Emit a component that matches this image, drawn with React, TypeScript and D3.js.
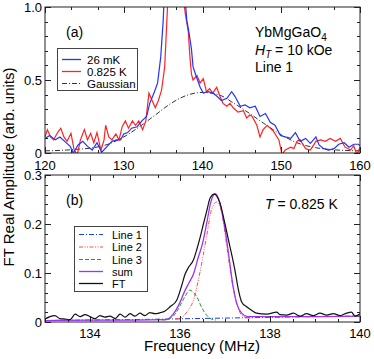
import React from "react";
import * as d3 from "d3";

const width = 374;
const height = 359;

// panel (a): frequency (MHz), amplitude (arb. units)
const blue26mK: [number, number][] = [
  [120.0, 0.1], [120.6, 0.12], [121.3, 0.09], [121.9, 0.11], [122.5, 0.08], [123.2, 0.045],
  [123.6, 0.0], [124.2, 0.055], [124.8, 0.08], [125.4, 0.045], [126.0, 0.02], [126.6, 0.07],
  [127.2, 0.005], [127.9, 0.045], [128.5, 0.08], [129.1, 0.09], [129.6, 0.09], [130.0, 0.13],
  [130.5, 0.14], [131.0, 0.17], [131.7, 0.18], [132.3, 0.22], [132.9, 0.25], [133.3, 0.34],
  [133.9, 0.42], [134.3, 0.48], [134.7, 0.66], [135.0, 0.9], [135.5, 1.5], [136.0, 2.3],
  [136.6, 2.8], [137.2, 2.0], [137.6, 1.2], [138.0, 0.91], [138.3, 0.82], [138.6, 0.71],
  [138.8, 0.59], [139.3, 0.51], [139.7, 0.45], [140.1, 0.41], [140.7, 0.42], [141.3, 0.41],
  [141.8, 0.39], [142.4, 0.36], [143.1, 0.375], [143.7, 0.42], [144.1, 0.39], [144.8, 0.32],
  [145.4, 0.33], [146.0, 0.31], [146.7, 0.32], [147.3, 0.25], [148.0, 0.27], [148.6, 0.21],
  [149.2, 0.19], [149.9, 0.12], [150.5, 0.11], [151.2, 0.1], [151.8, 0.14], [152.4, 0.08],
  [153.1, 0.1], [153.7, 0.066], [154.4, 0.11], [154.8, 0.055], [155.4, 0.03], [156.0, 0.02],
  [156.7, 0.03], [157.3, 0.06], [158.0, 0.07], [158.6, 0.04], [159.2, 0.06], [159.8, 0.06],
  [160.0, 0.05],
];

const red825mK: [number, number][] = [
  [120.0, 0.11], [120.3, 0.16], [120.7, 0.11], [121.1, 0.09], [121.6, 0.14], [122.0, 0.17],
  [122.4, 0.11], [122.8, 0.08], [123.3, 0.135], [123.7, 0.02], [124.1, -0.01], [124.5, 0.09],
  [125.0, 0.16], [125.4, 0.09], [125.8, 0.135], [126.2, 0.07], [126.6, 0.14], [127.1, 0.02],
  [127.5, 0.09], [127.7, 0.19], [128.1, 0.11], [128.5, 0.09], [129.0, 0.13], [129.4, 0.09],
  [129.8, 0.18], [130.2, 0.22], [130.6, 0.17], [131.1, 0.22], [131.5, 0.19], [131.9, 0.22],
  [132.4, 0.16], [132.8, 0.22], [133.2, 0.41], [133.6, 0.36], [134.0, 0.31], [134.4, 0.36],
  [134.8, 0.43], [135.2, 0.59], [135.4, 0.82], [135.6, 1.05], [136.1, 2.2], [136.7, 2.9],
  [137.2, 1.8], [137.5, 1.1], [137.8, 0.96], [138.2, 0.83], [138.4, 0.66], [138.6, 0.54],
  [138.8, 0.5], [139.3, 0.53], [139.7, 0.48], [140.1, 0.51], [140.5, 0.42], [140.9, 0.44],
  [141.3, 0.41], [141.8, 0.45], [142.2, 0.39], [142.6, 0.34], [143.1, 0.32], [143.5, 0.34],
  [143.9, 0.31], [144.5, 0.28], [145.2, 0.29], [145.6, 0.24], [146.0, 0.26], [146.3, 0.25],
  [146.9, 0.19], [147.3, 0.11], [147.7, 0.16], [148.2, 0.19], [148.6, 0.17], [149.0, 0.15],
  [149.7, 0.09], [150.1, -0.01], [150.5, 0.02], [151.2, 0.04], [151.6, 0.03], [152.0, 0.08],
  [152.4, 0.09], [153.1, 0.03], [153.7, 0.02], [154.4, 0.08], [155.0, 0.09], [155.6, 0.08],
  [156.2, 0.1], [156.9, 0.08], [157.5, 0.1], [158.1, 0.04], [158.8, 0.02], [159.2, 0.05],
  [159.6, -0.01], [160.0, 0.04],
];

const gaussianA: [number, number][] = [
  [120, 0.015], [122, 0.018], [124, 0.025], [126, 0.035], [128, 0.06], [130, 0.11],
  [132, 0.18], [134, 0.26], [136, 0.34], [138, 0.395], [140, 0.415], [142, 0.4],
  [144, 0.34], [146, 0.27], [148, 0.195], [150, 0.125], [152, 0.07], [154, 0.04],
  [156, 0.025], [158, 0.018], [160, 0.015],
];

// panel (b)
const ftB: [number, number][] = [
  [133.0, 0.006], [133.11, 0.011], [133.22, 0.013], [133.33, 0.007], [133.44, 0.006],
  [133.56, 0.005], [133.67, 0.016], [133.78, 0.011], [133.89, 0.015], [134.0, 0.011],
  [134.11, 0.007], [134.22, 0.013], [134.33, 0.01], [134.44, 0.012], [134.56, 0.007],
  [134.67, 0.016], [134.78, 0.01], [134.89, 0.017], [135.0, 0.012], [135.11, 0.018],
  [135.22, 0.013], [135.33, 0.019], [135.44, 0.017], [135.56, 0.019], [135.66, 0.022],
  [135.78, 0.031], [135.93, 0.045], [136.04, 0.075], [136.11, 0.097], [136.18, 0.11],
  [136.3, 0.127], [136.37, 0.147], [136.44, 0.17], [136.52, 0.2], [136.59, 0.225],
  [136.67, 0.253], [136.76, 0.261], [136.89, 0.242], [137.0, 0.2], [137.11, 0.154],
  [137.22, 0.106], [137.3, 0.065], [137.37, 0.041], [137.48, 0.031], [137.59, 0.024],
  [137.7, 0.018], [137.93, 0.016], [138.15, 0.02], [138.22, 0.015], [138.37, 0.014],
  [138.52, 0.018], [138.67, 0.012], [138.81, 0.017], [138.96, 0.013], [139.11, 0.018],
  [139.26, 0.014], [139.41, 0.017], [139.56, 0.013], [139.7, 0.018], [139.81, 0.02],
  [139.89, 0.012], [140.0, 0.017],
];

const sumB: [number, number][] = [
  [133.0, 0.003], [134.0, 0.004], [135.0, 0.004], [135.7, 0.005], [135.85, 0.016],
  [136.0, 0.04], [136.1, 0.062], [136.2, 0.08], [136.3, 0.098], [136.4, 0.13],
  [136.5, 0.16], [136.6, 0.205], [136.68, 0.243], [136.78, 0.262], [136.88, 0.245],
  [137.0, 0.19], [137.1, 0.125], [137.18, 0.072], [137.26, 0.038], [137.37, 0.018],
  [137.5, 0.011], [138.0, 0.011], [139.0, 0.011], [140.0, 0.012],
];

const line1B: [number, number][] = [
  [133, 0.003], [134, 0.004], [135, 0.005], [136, 0.0065], [137, 0.008], [138, 0.0095],
  [139, 0.011], [140, 0.012],
];

const line2B: [number, number][] = [
  [135.9, 0.006], [136.05, 0.01], [136.15, 0.02], [136.3, 0.045], [136.44, 0.1],
  [136.59, 0.174], [136.7, 0.229], [136.82, 0.245], [136.93, 0.222], [137.04, 0.154],
  [137.15, 0.086], [137.26, 0.038], [137.37, 0.014], [137.48, 0.009], [137.6, 0.008],
];

const line3B: [number, number][] = [
  [135.6, 0.004], [135.74, 0.006], [135.85, 0.012], [135.96, 0.026], [136.05, 0.042],
  [136.11, 0.052], [136.22, 0.065], [136.3, 0.06], [136.37, 0.052], [136.48, 0.03],
  [136.59, 0.014], [136.7, 0.006], [136.8, 0.004],
];

const topXTicks = [120, 130, 140, 150, 160];
const topYTicks = [0, 0.5, 1.0];
const topYLabels = ["0", "0.5", "1.0"];
const botXTicks = [134, 136, 138, 140];
const botYTicks = [0, 0.1, 0.2, 0.3];
const botYLabels = ["0", "0.1", "0.2", "0.3"];

const font = "'Liberation Sans', Arial, Helvetica, sans-serif";
const left = 45;
const right = 360;

const xTop = d3.scaleLinear().domain([120, 160]).range([left, right]);
const yTop = d3.scaleLinear().domain([0, 1]).range([153, 7]);
const xBot = d3.scaleLinear().domain([133, 140]).range([left, right]);
const yBot = d3.scaleLinear().domain([0, 0.3]).range([322, 175]);

const Frame = ({ x, y, xMajor, xMinor, yMajor, yMinor, yLabels, xPad }: any) => {
  const [x0, x1] = x.range();
  const [y0, y1] = y.range();
  return (
    <g stroke="#222" strokeWidth={1} fill="none">
      <rect x={x0} y={y1} width={x1 - x0} height={y0 - y1} />
      {xMinor.map((t: number, i: number) => {
        const len = xMajor.some((m: number) => Math.abs(m - t) < 1e-6) ? 6 : 3;
        const px = Math.round(x(t)) + 0.5;
        return (
          <g key={"x" + i}>
            <line x1={px} x2={px} y1={y0} y2={y0 - len} />
            <line x1={px} x2={px} y1={y1} y2={y1 + len} />
          </g>
        );
      })}
      {yMinor.map((t: number, i: number) => {
        const len = yMajor.some((m: number) => Math.abs(m - t) < 1e-6) ? 6 : 3;
        const py = Math.round(y(t)) + 0.5;
        return (
          <g key={"y" + i}>
            <line x1={x0} x2={x0 + len} y1={py} y2={py} />
            <line x1={x1} x2={x1 - len} y1={py} y2={py} />
          </g>
        );
      })}
      <g stroke="none" fill="#000" fontSize={13} fontFamily={font}>
        {xMajor.map((t: number) => (
          <text key={t} x={x(t)} y={y0 + xPad} textAnchor="middle">
            {t}
          </text>
        ))}
        {yMajor.map((t: number, i: number) => (
          <text key={t} x={x0 - 3} y={y(t) + 4.5} textAnchor="end">
            {yLabels[i]}
          </text>
        ))}
      </g>
    </g>
  );
};

export default function App() {
  const lineTop = d3.line<[number, number]>().x((d) => xTop(d[0])).y((d) => yTop(d[1]));
  const gaussLine = d3
    .line<[number, number]>()
    .x((d) => xTop(d[0]))
    .y((d) => yTop(d[1]))
    .curve(d3.curveMonotoneX);
  const lineBot = d3
    .line<[number, number]>()
    .x((d) => xBot(d[0]))
    .y((d) => yBot(d[1]))
    .curve(d3.curveMonotoneX);

  return (
    <svg width={width} height={height} style={{ display: "block", position: "absolute", left: 0, top: 0 }}>
      <rect width={width} height={height} fill="#fff" />
      <defs>
        <clipPath id="clipTop">
          <rect x={left} y={7} width={right - left} height={146} />
        </clipPath>
        <clipPath id="clipBot">
          <rect x={left} y={175} width={right - left} height={147} />
        </clipPath>
      </defs>

      {/* panel (a) */}
      <g clipPath="url(#clipTop)" fill="none">
        <path d={gaussLine(gaussianA)!} stroke="#333" strokeWidth={1} strokeDasharray="5,2,1,2" />
        <path d={lineTop(red825mK)!} stroke="#ff2222" strokeWidth={1.2} />
        <path d={lineTop(blue26mK)!} stroke="#2233ff" strokeWidth={1.2} />
      </g>
      <Frame
        x={xTop}
        y={yTop}
        xMajor={topXTicks}
        xMinor={d3.range(120, 160.01, 10 / 3)}
        yMajor={topYTicks}
        yMinor={d3.range(0, 1.001, 0.1)}
        yLabels={topYLabels}
        xPad={17}
      />

      {/* panel (b) */}
      <g clipPath="url(#clipBot)" fill="none">
        <path d={lineBot(line1B)!} stroke="#1a3cff" strokeWidth={1} strokeDasharray="5,2,1,2" />
        <path d={lineBot(line2B)!} stroke="#ff4a4a" strokeWidth={1} strokeDasharray="4,1.5,1,1.5,1,1.5" />
        <path d={lineBot(line3B)!} stroke="#1f9a1f" strokeWidth={1} strokeDasharray="4,2" />
        <path d={lineBot(sumB)!} stroke="#a033f0" strokeWidth={1.3} />
        <path d={lineBot(ftB)!} stroke="#111" strokeWidth={1.2} />
      </g>
      <Frame
        x={xBot}
        y={yBot}
        xMajor={botXTicks}
        xMinor={d3.range(133, 140.01, 0.5)}
        yMajor={botYTicks}
        yMinor={d3.range(0, 0.301, 0.02)}
        yLabels={botYLabels}
        xPad={16}
      />

      <g fontFamily={font} fill="#000">
        {/* annotations (a) */}
        <text x={66} y={37} fontSize={14}>(a)</text>
        <text x={255} y={37} fontSize={14}>
          YbMgGaO<tspan fontSize={10} dy={4}>4</tspan>
        </text>
        <text x={255} y={55} fontSize={14}>
          <tspan fontStyle="italic">H</tspan>
          <tspan fontStyle="italic" fontSize={10} dy={3}>T</tspan>
          <tspan dy={-3}> = 10 kOe</tspan>
        </text>
        <text x={255} y={72} fontSize={14}>Line 1</text>

        {/* legend (a) */}
        <rect x={57.5} y={48.5} width={80} height={42} fill="#fff" stroke="#444" />
        <line x1={62} x2={81} y1={59.5} y2={59.5} stroke="#2233ff" strokeWidth={1.3} />
        <line x1={62} x2={81} y1={71.5} y2={71.5} stroke="#ff2222" strokeWidth={1.3} />
        <line x1={62} x2={81} y1={83.5} y2={83.5} stroke="#333" strokeDasharray="5,2,1,2" />
        <g fontSize={11.5}>
          <text x={87} y={63.5}>26 mK</text>
          <text x={87} y={75.5}>0.825 K</text>
          <text x={87} y={87.5}>Gaussian</text>
        </g>

        {/* annotations (b) */}
        <text x={66} y={205} fontSize={14}>(b)</text>
        <text x={265} y={209} fontSize={14}>
          <tspan fontStyle="italic">T</tspan> = 0.825 K
        </text>

        {/* legend (b) */}
        <rect x={74.5} y={226.5} width={73} height={65} fill="#fff" stroke="#444" />
        <line x1={79} x2={103} y1={234.5} y2={234.5} stroke="#1a3cff" strokeDasharray="5,2,1,2" />
        <line x1={79} x2={103} y1={247} y2={247} stroke="#ff4a4a" strokeDasharray="4,1.5,1,1.5,1,1.5" />
        <line x1={79} x2={103} y1={259.5} y2={259.5} stroke="#1f9a1f" strokeDasharray="4,2" />
        <line x1={79} x2={103} y1={271.5} y2={271.5} stroke="#a033f0" strokeWidth={1.3} />
        <line x1={79} x2={103} y1={283.5} y2={283.5} stroke="#111" strokeWidth={1.3} />
        <g fontSize={11}>
          <text x={112} y={238.5}>Line 1</text>
          <text x={112} y={251}>Line 2</text>
          <text x={112} y={263.5}>Line 3</text>
          <text x={112} y={275.5}>sum</text>
          <text x={112} y={287.5}>FT</text>
        </g>

        {/* axis titles */}
        <text x={202} y={351} fontSize={15} textAnchor="middle">Frequency (MHz)</text>
        <text transform="translate(14,167) rotate(-90)" fontSize={15} textAnchor="middle">
          FT Real Amplitude (arb. units)
        </text>
      </g>
    </svg>
  );
}
